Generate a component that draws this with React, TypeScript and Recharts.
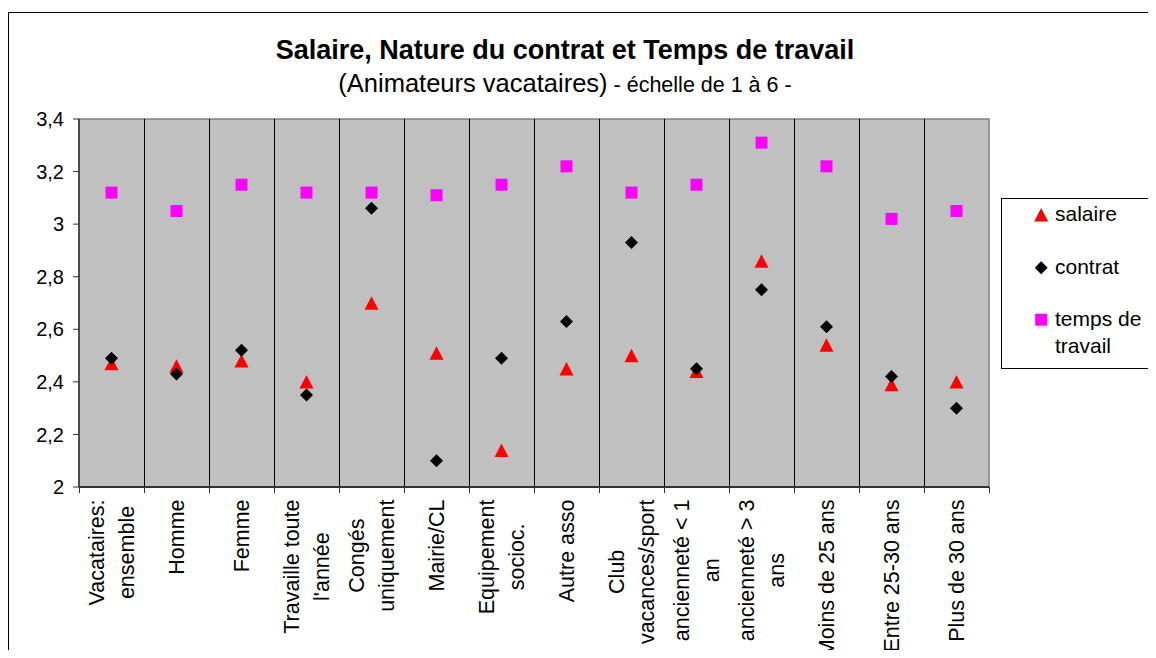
import { ScatterChart, Scatter, XAxis, YAxis, ReferenceArea, ReferenceLine } from "recharts";

const categories: string[][] = [
  ["Vacataires:", "ensemble"],
  ["Homme"],
  ["Femme"],
  ["Travaille toute", "l'année"],
  ["Congés", "uniquement"],
  ["Mairie/CL"],
  ["Equipement", "socioc."],
  ["Autre asso"],
  ["Club", "vacances/sport"],
  ["ancienneté < 1", "an"],
  ["ancienneté > 3", "ans"],
  ["Moins de 25 ans"],
  ["Entre 25-30 ans"],
  ["Plus de 30 ans"],
];

const salaire = [2.47, 2.46, 2.48, 2.4, 2.7, 2.51, 2.14, 2.45, 2.5, 2.44, 2.86, 2.54, 2.39, 2.4];
const contrat = [2.49, 2.43, 2.52, 2.35, 3.06, 2.1, 2.49, 2.63, 2.93, 2.45, 2.75, 2.61, 2.42, 2.3];
const temps = [3.12, 3.05, 3.15, 3.12, 3.12, 3.11, 3.15, 3.22, 3.12, 3.15, 3.31, 3.22, 3.02, 3.05];

const yTicks = [2, 2.2, 2.4, 2.6, 2.8, 3, 3.2, 3.4];

const FONT = '"Liberation Sans", Arial, sans-serif';

// one point per category, centred in its band
const toPoints = (vals: number[]) => vals.map((v, i) => ({ pos: i + 0.5, v }));
const boundaries = categories.map((_, i) => i).concat(categories.length);
const xTicks = categories.flatMap((_, i) => [i, i + 0.5]).concat(categories.length);

let ctx: CanvasRenderingContext2D | null = null;
function textWidth(s: string, size: number) {
  if (!ctx) ctx = document.createElement("canvas").getContext("2d");
  if (!ctx) return s.length * size * 0.5;
  ctx.font = `${size}px ${FONT}`;
  return ctx.measureText(s).width;
}

const Triangle = (p: any) => (
  <polygon
    points={`${p.cx},${p.cy - 6.75} ${p.cx + 7},${p.cy + 6.75} ${p.cx - 7},${p.cy + 6.75}`}
    fill="#FF0000"
  />
);
const Diamond = (p: any) => (
  <polygon
    points={`${p.cx},${p.cy - 6.5} ${p.cx + 6.5},${p.cy} ${p.cx},${p.cy + 6.5} ${p.cx - 6.5},${p.cy}`}
    fill="#000000"
  />
);
const Square = (p: any) => <rect x={p.cx - 6} y={p.cy - 6} width={12} height={12} fill="#FF00FF" />;

// crisp 1px separator between categories
const GridLine = (p: any) => (
  <line x1={p.x1 + 0.5} y1={p.y1} x2={p.x2 + 0.5} y2={p.y2} stroke="#000" strokeWidth={1} />
);

const LABEL_SIZE = 21.5;

function XTick(props: any) {
  const { x, y, payload } = props;
  const v = payload.value;
  if (Number.isInteger(v)) {
    return <line x1={x + 0.5} y1={y} x2={x + 0.5} y2={y + 6} stroke="#333" strokeWidth={1} />;
  }
  const lines = categories[Math.floor(v)];
  const maxLen = Math.max(...lines.map((l) => textWidth(l, LABEL_SIZE)));
  const top = y + 12.5;
  return (
    <g transform={`translate(${x},${top + maxLen / 2}) rotate(-90)`}>
      {lines.map((l, i) => (
        <text
          key={i}
          x={0}
          y={(i - (lines.length - 1) / 2) * 30 + 7.5}
          textAnchor="middle"
          fontSize={LABEL_SIZE}
          fontFamily={FONT}
          fill="#000"
        >
          {l}
        </text>
      ))}
    </g>
  );
}

const fmt = (v: number) => (Number.isInteger(v) ? String(v) : v.toFixed(1).replace(".", ","));

const legendItems = [
  { label: ["salaire"], marker: "triangle" },
  { label: ["contrat"], marker: "diamond" },
  { label: ["temps de", "travail"], marker: "square" },
];

function LegendBox() {
  const rows = [16.7, 69.7, 121.7];
  return (
    <svg width={152} height={172} style={{ position: "absolute", left: 992, top: 185 }}>
      <rect x={0.5} y={0.5} width={149} height={170} fill="#fff" stroke="#000" />
      {legendItems.map((it, i) => {
        const cy = rows[i];
        const cx = 40.2;
        return (
          <g key={it.marker}>
            {it.marker === "triangle" && <Triangle cx={cx} cy={cy} />}
            {it.marker === "diamond" && <Diamond cx={cx} cy={cy} />}
            {it.marker === "square" && <Square cx={cx} cy={cy} />}
            {it.label.map((l, j) => (
              <text key={j} x={54} y={cy + 6 + j * 27} fontSize={21} fontFamily={FONT} fill="#000">
                {l}
              </text>
            ))}
          </g>
        );
      })}
    </svg>
  );
}

export default function App() {
  return (
    <div
      style={{
        position: "relative",
        top: 4,
        width: 1147,
        height: 641,
        borderTop: "1px solid #000",
        borderLeft: "1px solid #000",
        background: "#fff",
      }}
    >
      <svg width={1147} height={100} style={{ position: "absolute", left: 0, top: 0 }}>
        <text x={556} y={46.3} textAnchor="middle" fontSize={27} fontWeight="bold" fontFamily={FONT} fill="#000">
          Salaire, Nature du contrat et Temps de travail
        </text>
        <text x={556} y={78.5} textAnchor="middle" fontFamily={FONT} fill="#000">
          <tspan fontSize={25.5}>(Animateurs vacataires)</tspan>
          <tspan fontSize={21.5}> - échelle de 1 à 6 -</tspan>
        </text>
      </svg>
      <div style={{ position: "absolute", left: 0, top: 0 }}>
        <ScatterChart width={1147} height={641} margin={{ top: 106, right: 167, bottom: 0, left: 10 }}>
          <ReferenceArea x1={0} x2={14} y1={2} y2={3.4} fill="#C0C0C0" fillOpacity={1} stroke="#808080" strokeWidth={1.5} />
          {boundaries.slice(1, -1).map((b) => (
            <ReferenceLine key={b} x={b} shape={GridLine} />
          ))}
          <XAxis
            type="number"
            dataKey="pos"
            domain={[0, categories.length]}
            ticks={xTicks}
            interval={0}
            tickLine={false}
            tickSize={0}
            tickMargin={0}
            height={167}
            axisLine={{ stroke: "#333", strokeWidth: 2 }}
            tick={<XTick />}
          />
          <YAxis
            type="number"
            dataKey="v"
            domain={[2, 3.4]}
            ticks={yTicks}
            interval={0}
            width={60}
            tickSize={6}
            tickMargin={9}
            tickFormatter={fmt}
            axisLine={{ stroke: "#333", strokeWidth: 1.5 }}
            tickLine={{ stroke: "#333" }}
            tick={{ fontSize: 20, fontFamily: FONT, fill: "#000" }}
          />
          <Scatter name="salaire" data={toPoints(salaire)} shape={Triangle} isAnimationActive={false} />
          <Scatter name="contrat" data={toPoints(contrat)} shape={Diamond} isAnimationActive={false} />
          <Scatter name="temps de travail" data={toPoints(temps)} shape={Square} isAnimationActive={false} />
        </ScatterChart>
      </div>
      <LegendBox />
    </div>
  );
}
